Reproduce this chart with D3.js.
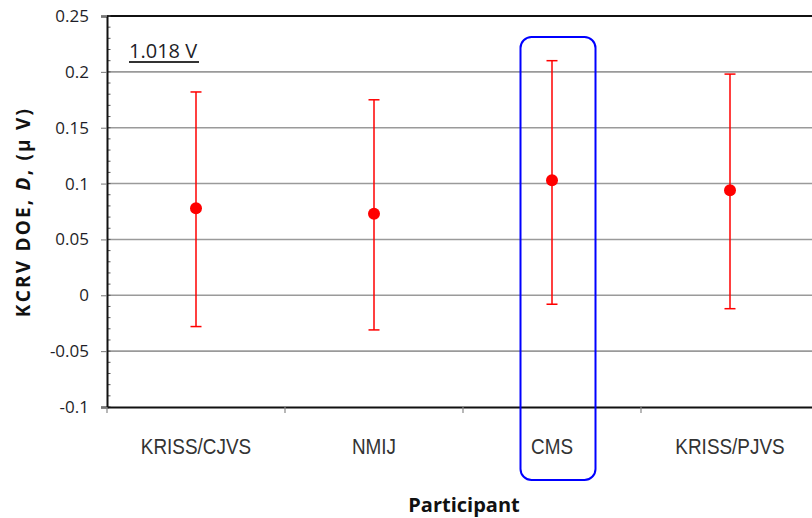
<!DOCTYPE html>
<html>
<head>
<meta charset="utf-8">
<script src="https://cdn.jsdelivr.net/npm/d3@7"></script>
<style>
  body { margin: 0; background: #fff; }
  svg { display: block; }
</style>
</head>
<body>
<svg id="chart"></svg>
<script>
// values
const participants = ["KRISS/CJVS", "NMIJ", "CMS", "KRISS/PJVS"];
const doe = [0.078, 0.073, 0.103, 0.094];
const upper = [0.182, 0.175, 0.210, 0.198];
const lower = [-0.028, -0.031, -0.008, -0.012];
const yTicks = [-0.1, -0.05, 0, 0.05, 0.1, 0.15, 0.2, 0.25];
const highlight = "CMS";

const width = 812, height = 518;
const margin = { top: 16, left: 107, bottom: 111 };
const plotRight = 819; // plot runs off the right edge of the picture

const svg = d3.select("#chart").attr("width", width).attr("height", height);

const x = d3.scaleBand()
    .domain(participants)
    .range([margin.left, plotRight]);

const y = d3.scaleLinear()
    .domain([-0.1, 0.25])
    .range([height - margin.bottom, margin.top]);

const series = participants.map((p, i) => ({
    name: p, value: doe[i], hi: upper[i], lo: lower[i]
}));

// gridlines
svg.append("g")
    .selectAll("line")
    .data(yTicks.filter(t => t > -0.1 && t < 0.25))
    .join("line")
    .attr("x1", margin.left).attr("x2", width)
    .attr("y1", d => y(d)).attr("y2", d => y(d))
    .attr("stroke", "#9a9a9a")
    .attr("stroke-width", 1.6);

// top border
svg.append("line")
    .attr("x1", margin.left).attr("x2", width)
    .attr("y1", y(0.25)).attr("y2", y(0.25))
    .attr("stroke", "#111").attr("stroke-width", 2);

// minor ticks inside left axis
const minor = d3.range(-10, 26).map(d => d / 100);
svg.append("g")
    .selectAll("line")
    .data(minor)
    .join("line")
    .attr("x1", margin.left).attr("x2", margin.left + 3.5)
    .attr("y1", d => y(d)).attr("y2", d => y(d))
    .attr("stroke", "#555").attr("stroke-width", 1);

// y axis
const yAxis = d3.axisLeft(y)
    .tickValues(yTicks)
    .tickSize(6)
    .tickPadding(12)
    .tickFormat(d => String(+d.toFixed(2)));

const yAxisG = svg.append("g")
    .attr("transform", `translate(${margin.left},0)`)
    .call(yAxis);
yAxisG.select(".domain").attr("stroke", "#111").attr("stroke-width", 2);
yAxisG.selectAll(".tick line").attr("stroke", "#777");
yAxisG.selectAll(".tick text")
    .attr("fill", "#1e1e28")
    .style("font-family", "'Open Sans', 'Noto Sans', sans-serif")
    .style("font-size", "17px");

// x axis
const xAxisG = svg.append("g")
    .attr("transform", `translate(0,${y(-0.1)})`)
    .call(d3.axisBottom(x).tickSize(0).tickPadding(31));
xAxisG.select(".domain").attr("stroke", "#111").attr("stroke-width", 2);
xAxisG.selectAll(".tick text")
    .attr("fill", "#333")
    .attr("transform", "scale(0.86,1)")
    .style("font-family", "'Liberation Sans', sans-serif")
    .style("font-size", "22px");

// tick marks at band boundaries
svg.append("g")
    .selectAll("line")
    .data(participants)
    .join("line")
    .attr("x1", d => x(d)).attr("x2", d => x(d))
    .attr("y1", y(-0.1)).attr("y2", y(-0.1) + 6)
    .attr("stroke", "#888").attr("stroke-width", 1.2);

// error bars
const cx = d => x(d.name) + x.bandwidth() / 2;
const bars = svg.append("g").selectAll("g").data(series).join("g");
bars.append("line")
    .attr("x1", cx).attr("x2", cx)
    .attr("y1", d => y(d.hi)).attr("y2", d => y(d.lo))
    .attr("stroke", "#ff0000").attr("stroke-width", 1.5);
bars.append("line")
    .attr("x1", d => cx(d) - 5.5).attr("x2", d => cx(d) + 5.5)
    .attr("y1", d => y(d.hi)).attr("y2", d => y(d.hi))
    .attr("stroke", "#ff0000").attr("stroke-width", 1.5);
bars.append("line")
    .attr("x1", d => cx(d) - 5.5).attr("x2", d => cx(d) + 5.5)
    .attr("y1", d => y(d.lo)).attr("y2", d => y(d.lo))
    .attr("stroke", "#ff0000").attr("stroke-width", 1.5);
bars.append("circle")
    .attr("cx", cx).attr("cy", d => y(d.value))
    .attr("r", 6)
    .attr("fill", "#ff0000");

// highlight box around CMS
svg.append("rect")
    .attr("x", x(highlight) + x.bandwidth() / 2 - 31.5)
    .attr("y", 37)
    .attr("width", 75)
    .attr("height", 443)
    .attr("rx", 11)
    .attr("fill", "none")
    .attr("stroke", "#0000ff")
    .attr("stroke-width", 2);

// annotation
svg.append("text")
    .attr("x", 129).attr("y", 58)
    .attr("fill", "#1e1e28")
    .style("font-family", "'Open Sans', 'Noto Sans', sans-serif")
    .style("font-size", "20px")
    .text("1.018 V");
svg.append("line")
    .attr("x1", 129).attr("x2", 199)
    .attr("y1", 62).attr("y2", 62)
    .attr("stroke", "#333").attr("stroke-width", 2);

// axis titles
const yTitle = svg.append("text")
    .attr("transform", "translate(30,212) rotate(-90)")
    .attr("text-anchor", "middle")
    .attr("fill", "#111")
    .style("font-family", "'Open Sans', 'Noto Sans', sans-serif")
    .style("font-size", "19px")
    .style("font-weight", "bold")
    .style("letter-spacing", "2.2px");
yTitle.append("tspan").text("KCRV DOE, ");
yTitle.append("tspan").style("font-style", "italic").text("D");
yTitle.append("tspan").text(", (µ V)");

svg.append("text")
    .attr("x", 464).attr("y", 512)
    .attr("text-anchor", "middle")
    .attr("fill", "#111")
    .style("font-family", "'Open Sans', 'Noto Sans', sans-serif")
    .style("font-size", "20px")
    .style("font-weight", "bold")
    .text("Participant");
</script>
</body>
</html>
